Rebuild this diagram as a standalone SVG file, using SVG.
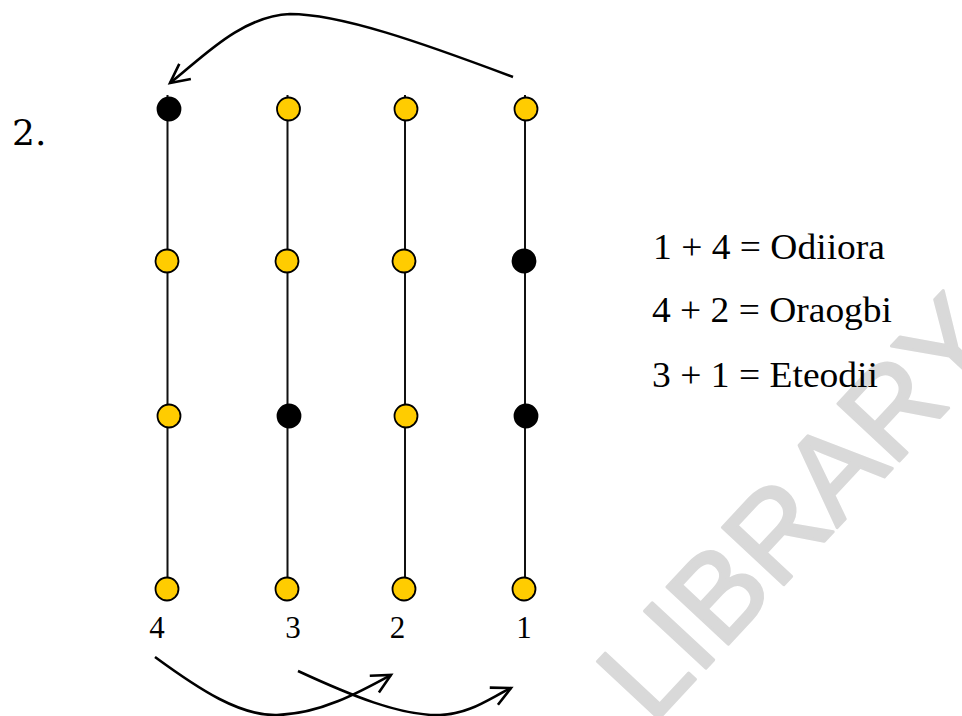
<svg xmlns="http://www.w3.org/2000/svg" width="962" height="716" viewBox="0 0 962 716">
  <style>
    .stem { stroke: #111; stroke-width: 2; fill: none; }
    .open { fill: #ffcc00; stroke: #000; stroke-width: 1.8; }
    .shut { fill: #000; stroke: #000; stroke-width: 1.8; }
    .arc { fill: none; stroke: #000; stroke-width: 2.6; marker-end: url(#chevron); }
    .lbl { font-family: "Liberation Serif", "Times New Roman", serif; fill: #000; }
    .mark { font-family: "Liberation Sans", Arial, sans-serif; fill: #d9d9d9; stroke: #d9d9d9; stroke-width: 3; stroke-linejoin: round; }
  </style>
  <defs>
    <marker id="chevron" markerUnits="userSpaceOnUse" markerWidth="30" markerHeight="30" refX="0" refY="0" orient="auto" style="overflow:visible">
      <path d="M-19,-9.5 L0,0 L-19,9.5" fill="none" stroke="#000" stroke-width="2.6" stroke-linejoin="miter"/>
    </marker>
  </defs>
  <rect width="962" height="716" fill="#fff"/>

  <!-- background stamp -->
  <text class="mark" transform="translate(652,726) rotate(-47)" font-size="122">LIBRARY</text>

  <text id="number" x="12" y="145" font-family="'DejaVu Serif', serif" font-size="36">2.</text>

  <!-- four vertical strands, numbered 4 3 2 1 from the left -->
  <g id="strand-4">
    <line class="stem" x1="167.5" y1="95" x2="167.5" y2="589"/>
    <circle class="shut" cx="169" cy="109" r="11.5"/>
    <circle class="open" cx="167" cy="261" r="11.5"/>
    <circle class="open" cx="169" cy="416" r="11.5"/>
    <circle class="open" cx="167" cy="589" r="11.5"/>
    <text class="lbl" x="157" y="638" font-size="31" text-anchor="middle">4</text>
  </g>
  <g id="strand-3">
    <line class="stem" x1="287.5" y1="95" x2="287.5" y2="589"/>
    <circle class="open" cx="288.5" cy="109" r="11.5"/>
    <circle class="open" cx="287" cy="261" r="11.5"/>
    <circle class="shut" cx="289" cy="416" r="11.5"/>
    <circle class="open" cx="287" cy="589" r="11.5"/>
    <text class="lbl" x="293" y="638" font-size="31" text-anchor="middle">3</text>
  </g>
  <g id="strand-2">
    <line class="stem" x1="405" y1="95" x2="405" y2="589"/>
    <circle class="open" cx="406" cy="109" r="11.5"/>
    <circle class="open" cx="404" cy="261" r="11.5"/>
    <circle class="open" cx="406" cy="416" r="11.5"/>
    <circle class="open" cx="404" cy="589" r="11.5"/>
    <text class="lbl" x="397.5" y="638" font-size="31" text-anchor="middle">2</text>
  </g>
  <g id="strand-1">
    <line class="stem" x1="525" y1="95" x2="525" y2="589"/>
    <circle class="open" cx="526" cy="109" r="11.5"/>
    <circle class="shut" cx="524" cy="261" r="11.5"/>
    <circle class="shut" cx="526" cy="416" r="11.5"/>
    <circle class="open" cx="524" cy="589" r="11.5"/>
    <text class="lbl" x="524" y="638" font-size="31" text-anchor="middle">1</text>
  </g>

  <!-- pairings -->
  <g id="pairings" class="lbl" font-size="36">
    <text x="653" y="259" textLength="232" lengthAdjust="spacingAndGlyphs">1 + 4 = Odiiora</text>
    <text x="652" y="322" textLength="240" lengthAdjust="spacingAndGlyphs">4 + 2 = Oraogbi</text>
    <text x="652" y="387" textLength="226" lengthAdjust="spacingAndGlyphs">3 + 1 = Eteodii</text>
  </g>

  <!-- moves -->
  <g id="connectors">
    <path class="arc" d="M513,77 C420,42 340,14 290,14 C240,16 200,60 170,83"/>
    <path class="arc" d="M155,657 C200,690 240,716 277,715 C320,714 360,692 391,675"/>
    <path class="arc" d="M298,671 C350,695 400,716 440,715 C470,714 490,698 511,688"/>
  </g>
</svg>
